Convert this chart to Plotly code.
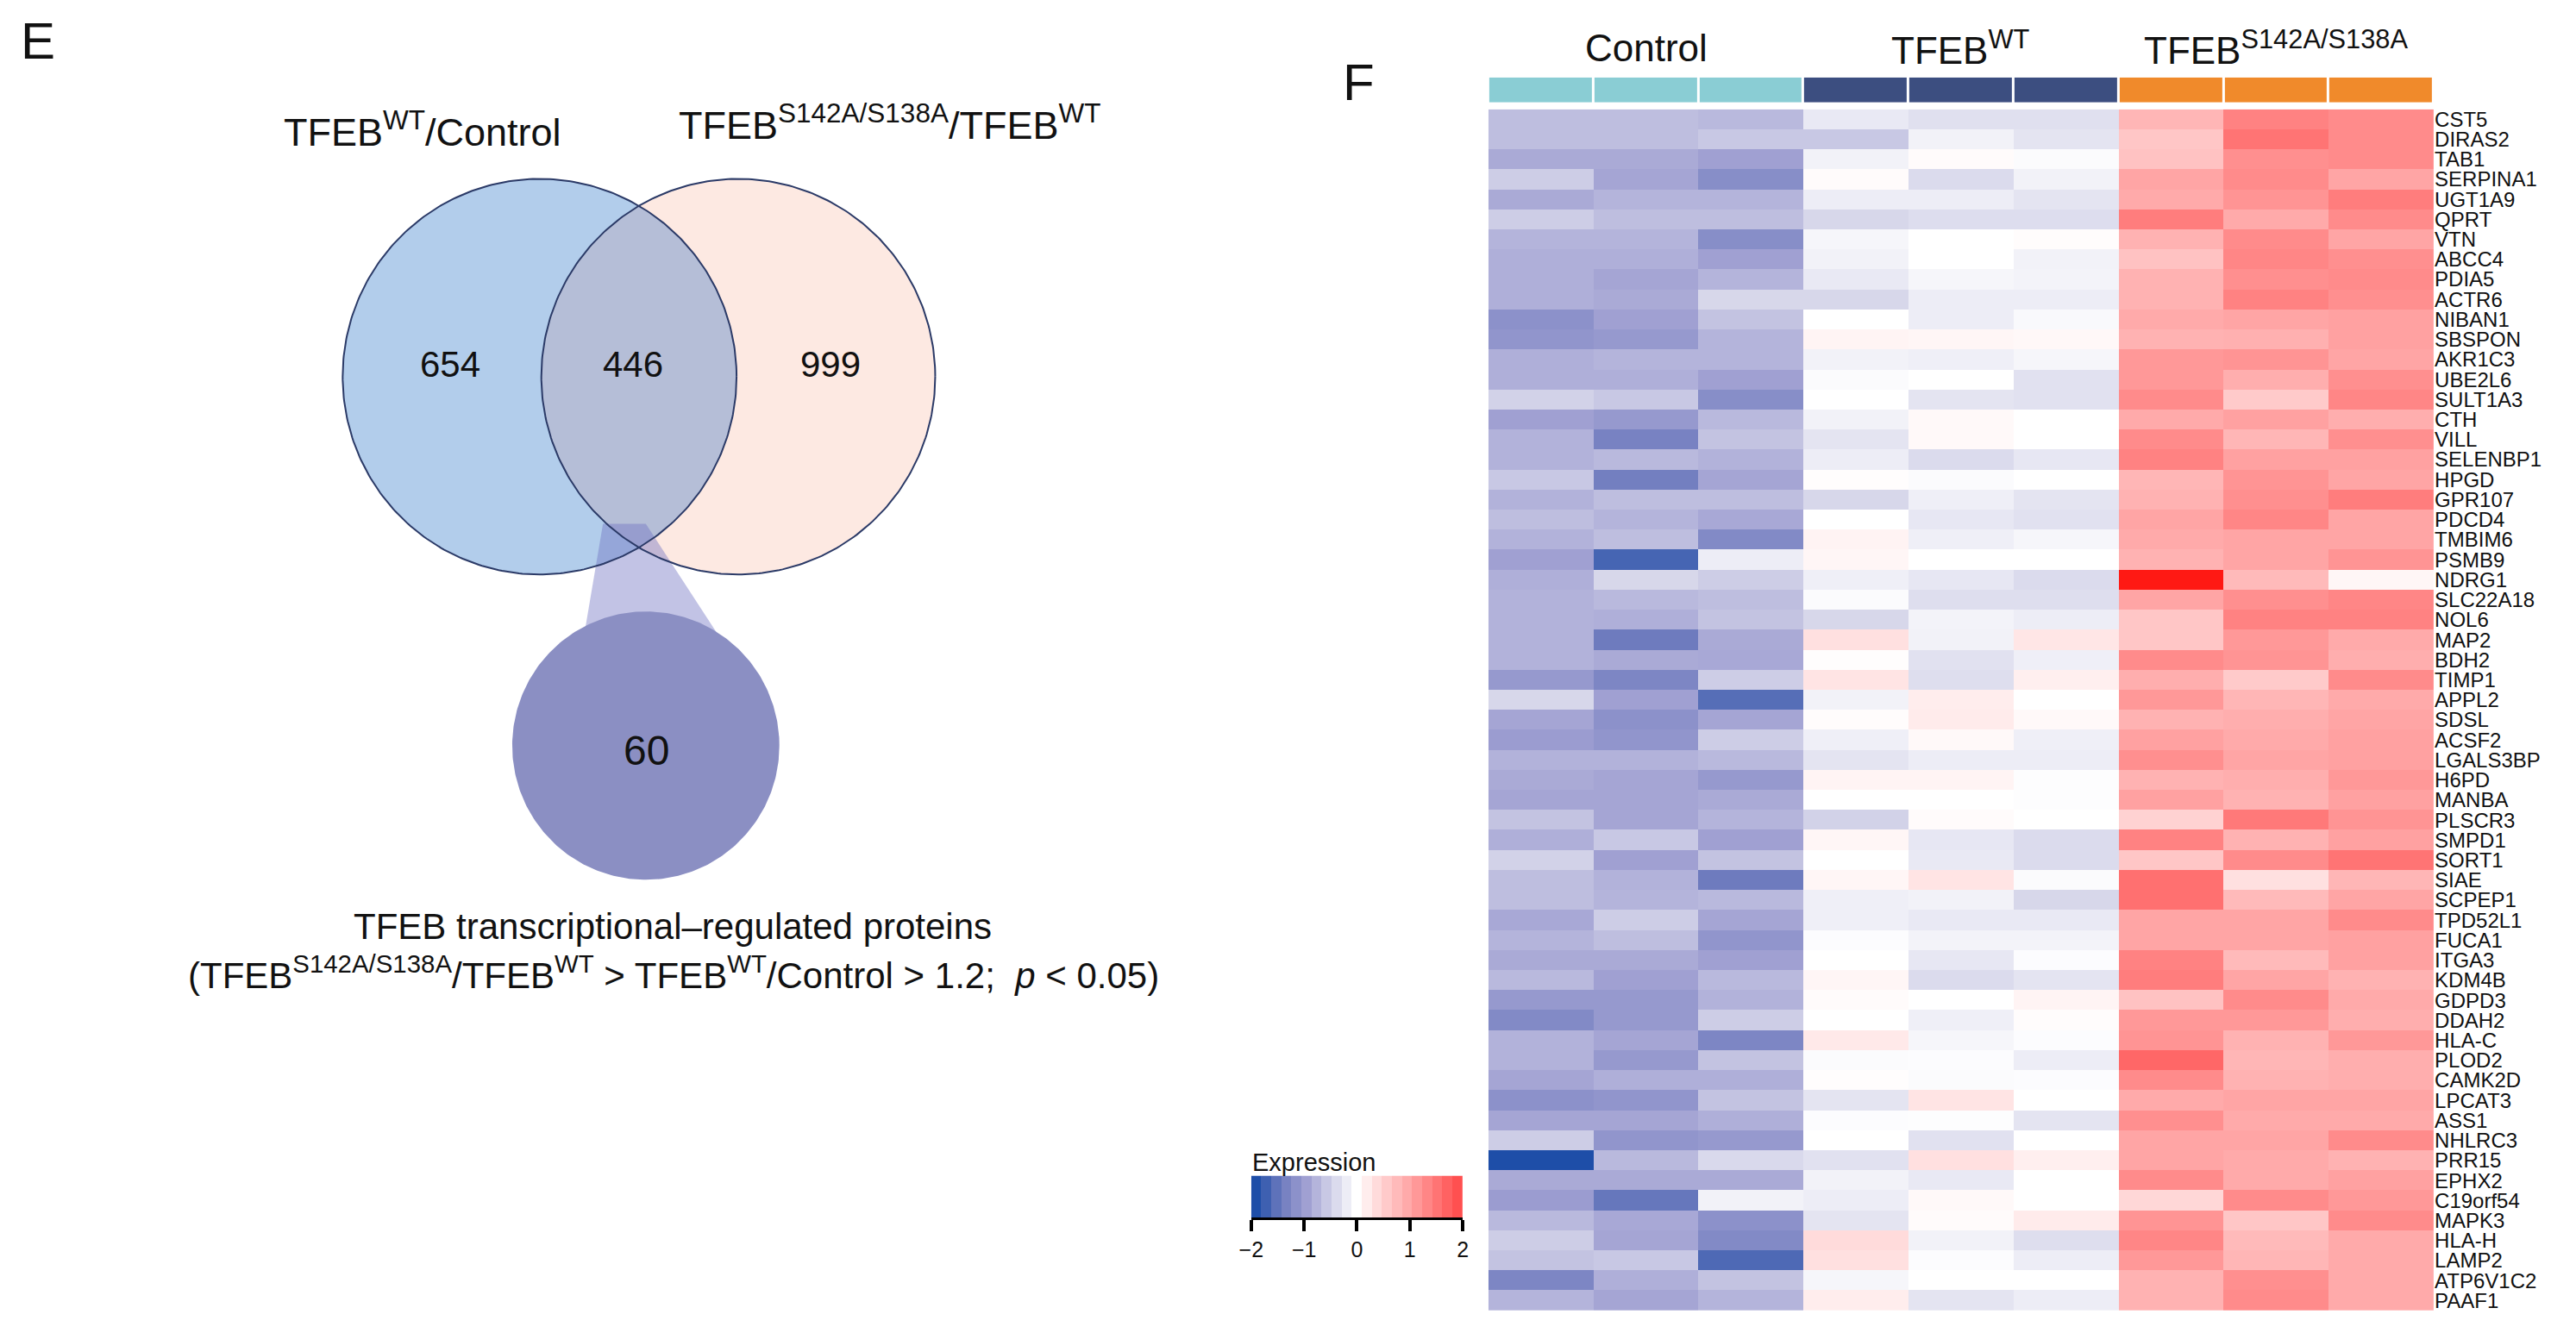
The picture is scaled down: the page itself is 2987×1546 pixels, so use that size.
import numpy as np
import plotly.graph_objects as go

W, H = 2987, 1546          # reference picture size
PAD = 8                    # default body margin of the html page
WF, HF = W - 2 * PAD, H - 2 * PAD
FONT = "Liberation Sans, Arial, Helvetica, sans-serif"

# ---------------- DATA ----------------
genes = ["CST5", "DIRAS2", "TAB1", "SERPINA1", "UGT1A9", "QPRT", "VTN", "ABCC4", "PDIA5", "ACTR6",
         "NIBAN1", "SBSPON", "AKR1C3", "UBE2L6", "SULT1A3", "CTH", "VILL", "SELENBP1", "HPGD", "GPR107",
         "PDCD4", "TMBIM6", "PSMB9", "NDRG1", "SLC22A18", "NOL6", "MAP2", "BDH2", "TIMP1", "APPL2",
         "SDSL", "ACSF2", "LGALS3BP", "H6PD", "MANBA", "PLSCR3", "SMPD1", "SORT1", "SIAE", "SCPEP1",
         "TPD52L1", "FUCA1", "ITGA3", "KDM4B", "GDPD3", "DDAH2", "HLA-C", "PLOD2", "CAMK2D", "LPCAT3",
         "ASS1", "NHLRC3", "PRR15", "EPHX2", "C19orf54", "MAPK3", "HLA-H", "LAMP2", "ATP6V1C2", "PAAF1"]

groups = ["Control", "TFEB<sup>WT</sup>", "TFEB<sup>S142A/S138A</sup>"]
sample_group = [0, 0, 0, 1, 1, 1, 2, 2, 2]

ctrl_1 = [-0.7, -0.7, -0.9, -0.55, -0.9, -0.55, -0.8, -0.85, -0.85, -0.85,
          -1.2, -1.15, -0.85, -0.85, -0.5, -1.0, -0.82, -0.82, -0.6, -0.82,
          -0.7, -0.82, -1.0, -0.85, -0.82, -0.82, -0.82, -0.82, -1.1, -0.45,
          -0.95, -1.05, -0.82, -0.9, -0.95, -0.65, -0.85, -0.5, -0.7, -0.7,
          -0.92, -0.8, -0.9, -0.75, -1.1, -1.3, -0.82, -0.82, -0.95, -1.2,
          -0.95, -0.55, -2.0, -0.9, -1.05, -0.75, -0.55, -0.65, -1.35, -0.8]
ctrl_2 = [-0.7, -0.7, -0.9, -0.95, -0.8, -0.7, -0.8, -0.85, -0.95, -0.9,
          -1.0, -1.1, -0.8, -0.85, -0.6, -1.1, -1.4, -0.75, -1.45, -0.7,
          -0.8, -0.7, -1.75, -0.45, -0.75, -0.85, -1.5, -0.9, -1.35, -1.0,
          -1.2, -1.15, -0.82, -0.95, -0.95, -0.95, -0.6, -1.0, -0.82, -0.8,
          -0.55, -0.7, -0.9, -1.0, -1.1, -1.1, -0.95, -1.1, -0.85, -1.15,
          -0.95, -1.15, -0.75, -0.9, -1.55, -0.92, -0.95, -0.6, -0.85, -0.95]
ctrl_3 = [-0.75, -0.6, -1.0, -1.25, -0.8, -0.7, -1.25, -1.0, -0.8, -0.45,
          -0.65, -0.8, -0.8, -1.0, -1.25, -0.75, -0.65, -0.82, -0.95, -0.7,
          -0.92, -1.3, -0.2, -0.55, -0.7, -0.65, -0.9, -0.92, -0.55, -1.65,
          -0.95, -0.55, -0.75, -1.1, -0.9, -0.8, -1.0, -0.65, -1.5, -0.75,
          -0.95, -1.15, -1.0, -0.75, -0.82, -0.55, -1.35, -0.65, -0.85, -0.65,
          -0.85, -1.1, -0.42, -0.9, -0.15, -1.2, -1.3, -1.7, -0.65, -0.8]
wt_1 = [-0.25, -0.6, -0.15, 0.05, -0.2, -0.45, -0.1, -0.15, -0.25, -0.45,
        0.0, 0.12, -0.15, -0.05, 0.0, -0.15, -0.3, -0.2, 0.02, -0.45,
        0.0, 0.13, 0.1, -0.18, -0.05, -0.45, 0.35, 0.02, 0.3, -0.15,
        0.03, -0.18, -0.3, 0.12, 0.0, -0.5, 0.1, 0.0, 0.1, -0.18,
        -0.18, -0.03, 0.0, 0.1, 0.05, 0.0, 0.25, -0.05, 0.02, -0.3,
        -0.03, 0.0, -0.33, -0.15, -0.2, -0.3, 0.4, 0.35, -0.1, 0.2]
wt_2 = [-0.35, -0.15, 0.05, -0.4, -0.2, -0.38, 0.0, 0.0, -0.1, -0.2,
        -0.2, 0.1, -0.18, 0.0, -0.3, 0.07, 0.07, -0.4, -0.05, -0.18,
        -0.27, -0.18, 0.0, -0.27, -0.37, -0.13, -0.15, -0.33, -0.37, 0.2,
        0.22, 0.07, -0.2, 0.12, 0.0, 0.04, -0.27, -0.25, 0.3, -0.15,
        -0.25, -0.13, -0.27, -0.4, 0.0, -0.18, -0.1, -0.03, -0.05, 0.3,
        -0.02, -0.33, 0.35, -0.25, 0.07, 0.05, -0.15, -0.03, 0.0, -0.3]
wt_3 = [-0.35, -0.3, -0.05, -0.15, -0.3, -0.38, 0.03, -0.15, -0.13, -0.2,
        -0.07, 0.08, -0.1, -0.33, -0.33, 0.0, 0.0, -0.27, 0.0, -0.3,
        -0.33, -0.1, 0.0, -0.4, -0.37, -0.2, 0.28, -0.18, 0.18, 0.0,
        0.07, -0.18, -0.2, -0.02, -0.02, 0.0, -0.4, -0.4, -0.05, -0.45,
        -0.25, -0.13, -0.03, -0.3, 0.12, 0.03, -0.03, -0.2, -0.03, 0.0,
        -0.3, 0.0, 0.18, 0.0, 0.0, 0.22, -0.37, -0.2, 0.0, -0.2]
mut_1 = [0.85, 0.65, 0.7, 1.05, 1.0, 1.5, 0.9, 0.7, 0.9, 0.9,
         1.0, 0.9, 1.2, 1.2, 1.35, 1.0, 1.35, 1.45, 0.85, 0.9,
         1.05, 1.0, 0.9, 2.6, 1.05, 0.65, 0.65, 1.35, 0.95, 1.2,
         0.9, 1.1, 1.3, 0.9, 1.1, 0.5, 1.45, 0.65, 1.65, 1.65,
         1.05, 1.05, 1.45, 1.5, 0.7, 1.2, 1.25, 1.75, 1.35, 1.0,
         1.3, 1.05, 1.05, 1.35, 0.45, 1.25, 1.4, 1.2, 0.9, 0.9]
mut_2 = [1.45, 1.6, 1.3, 1.35, 1.25, 1.0, 1.35, 1.4, 1.3, 1.45,
         1.05, 0.92, 1.25, 0.95, 0.6, 1.1, 0.85, 1.1, 1.25, 1.3,
         1.4, 1.05, 1.05, 0.8, 1.3, 1.45, 1.2, 1.25, 0.6, 0.85,
         0.95, 1.0, 1.05, 0.95, 0.9, 1.55, 0.9, 1.35, 0.35, 0.8,
         1.05, 1.05, 0.8, 1.05, 1.35, 1.2, 0.9, 0.85, 0.9, 1.05,
         1.0, 1.05, 1.0, 1.0, 1.35, 0.65, 0.8, 0.85, 1.3, 1.35]
mut_3 = [1.35, 1.35, 1.35, 1.05, 1.5, 1.35, 1.05, 1.3, 1.35, 1.3,
         1.1, 1.1, 1.05, 1.3, 1.4, 0.95, 1.3, 1.1, 1.05, 1.5,
         1.05, 1.05, 1.25, 0.1, 1.4, 1.45, 1.0, 0.95, 1.35, 1.0,
         1.05, 1.1, 1.1, 1.2, 1.1, 1.25, 1.1, 1.6, 0.85, 1.05,
         1.35, 1.1, 1.1, 0.9, 1.0, 0.95, 1.2, 0.95, 0.95, 1.05,
         1.0, 1.35, 0.9, 1.1, 1.2, 1.35, 1.0, 1.0, 1.0, 1.0]

legend_ticks = [-2, -1, 0, 1, 2]
legend_steps = [round(-2 + 0.2 * i, 2) for i in range(21)]

venn_set_labels = ["TFEB<sup>WT</sup>/Control", "TFEB<sup>S142A/S138A</sup>/TFEB<sup>WT</sup>"]
venn_counts = [654, 446, 999]
subset_count = 60
caption_1 = "TFEB transcriptional\u2013regulated proteins"
caption_2 = ("(TFEB<sup>S142A/S138A</sup>/TFEB<sup>WT</sup> &gt; TFEB<sup>WT</sup>/Control &gt; 1.2;\u00a0 "
             "<i>p</i> &lt; 0.05)")

# ---------------- STYLE ----------------
def px(x):
    return (x - PAD) / WF

def py(y):
    return 1 - (y - PAD) / HF

ZMIN, ZMAX = -2.0, 2.6
stops = [(-2.0, (30, 78, 168)), (-1.5, (110, 123, 190)), (-1.0, (160, 160, 210)),
         (-0.5, (210, 210, 232)), (0.0, (255, 255, 255)), (0.5, (255, 210, 210)),
         (1.0, (255, 170, 170)), (1.5, (255, 125, 125)), (2.0, (255, 80, 80)),
         (2.6, (255, 25, 20))]
colorscale = [[(v - ZMIN) / (ZMAX - ZMIN), "rgb(%d,%d,%d)" % c] for v, c in stops]

group_colors = ["#8acdd4", "#3c4e80", "#f08a2b"]

z = np.column_stack([ctrl_1, ctrl_2, ctrl_3, wt_1, wt_2, wt_3, mut_1, mut_2, mut_3])

fig = go.Figure()

# Heatmap
hm_x0, hm_x1, hm_y0, hm_y1 = 1724, 2828, 125, 1522
fig.add_trace(go.Heatmap(z=z, x=list(range(9)), y=list(range(len(genes))),
                         colorscale=colorscale, zmin=ZMIN, zmax=ZMAX, showscale=False,
                         xaxis="x", yaxis="y", hoverinfo="skip"))

# Annotation bar
fig.add_trace(go.Heatmap(z=[sample_group], x=list(range(9)), y=[0],
                         colorscale=[[0, group_colors[0]], [0.333, group_colors[0]],
                                     [0.334, group_colors[1]], [0.666, group_colors[1]],
                                     [0.667, group_colors[2]], [1, group_colors[2]]],
                         zmin=0, zmax=2, showscale=False, xgap=3,
                         xaxis="x2", yaxis="y2", hoverinfo="skip"))

# Legend (stepped)
n = len(legend_steps)
centers = [-2 + (i + 0.5) * 4 / n for i in range(n)]
fig.add_trace(go.Heatmap(z=[legend_steps], x=centers, y=[0], colorscale=colorscale,
                         zmin=ZMIN, zmax=ZMAX, showscale=False,
                         xaxis="x4", yaxis="y4", hoverinfo="skip"))

# ---------------- VENN ----------------
cL, cR, r = (616.0, 436.0), (848.0, 436.0), 230.0
cS, rS = (740.0, 865.0), 156.0
t = np.linspace(0, 2 * np.pi, 361)

def circ(c, rr):
    return c[0] + rr * np.cos(t), c[1] + rr * np.sin(t)

def add_fill(xs, ys, color):
    fig.add_trace(go.Scatter(x=xs, y=ys, mode="lines", fill="toself", fillcolor=color,
                             line=dict(width=0, color=color), xaxis="x3", yaxis="y3",
                             hoverinfo="skip"))

xl, yl = circ(cL, r)
xr, yr = circ(cR, r)
add_fill(xl, yl, "#b2cdeb")
add_fill(xr, yr, "#fde9e2")

half = (cR[0] - cL[0]) / 2
hh = np.sqrt(r ** 2 - half ** 2)
ang = np.arctan2(hh, half)
a1 = np.linspace(-ang, ang, 120)
a2 = np.linspace(np.pi - ang, np.pi + ang, 120)
lens_x = np.concatenate([cL[0] + r * np.cos(a1), cR[0] + r * np.cos(a2)])
lens_y = np.concatenate([cL[1] + r * np.sin(a1), cR[1] + r * np.sin(a2)])
add_fill(lens_x, lens_y, "#b5bed7")

# funnel
fx = [690, 740, 840, 664]
fy = [607, 607, 760, 760]
add_fill(fx, fy, "rgba(110,112,192,0.42)")

for xs, ys in [(xl, yl), (xr, yr)]:
    fig.add_trace(go.Scatter(x=xs, y=ys, mode="lines", line=dict(width=2, color="#2b3a67"),
                             xaxis="x3", yaxis="y3", hoverinfo="skip"))

xs_, ys_ = circ(cS, rS)
add_fill(xs_, ys_, "#8b8fc3")

# ---------------- LAYOUT ----------------
hidden = dict(visible=False, showgrid=False, zeroline=False)
fig.update_layout(
    width=WF, height=HF, margin=dict(l=0, r=0, t=0, b=0),
    paper_bgcolor="white", plot_bgcolor="white", showlegend=False,
    font=dict(family=FONT, color="#111111"),
    xaxis=dict(domain=[px(hm_x0), px(hm_x1)], range=[-0.5, 8.5], **hidden),
    yaxis=dict(domain=[py(hm_y1), py(hm_y0)], range=[len(genes) - 0.5, -0.5],
               side="right", tickmode="array", tickvals=list(range(len(genes))),
               ticktext=genes, ticks="", showgrid=False, zeroline=False, showline=False,
               tickfont=dict(size=24, family=FONT, color="#111111")),
    xaxis2=dict(domain=[px(hm_x0), px(hm_x1)], range=[-0.5, 8.5], anchor="y2", **hidden),
    yaxis2=dict(domain=[py(117), py(88)], range=[-0.5, 0.5], anchor="x2", **hidden),
    xaxis3=dict(domain=[0, px(1440)], range=[PAD, 1440], anchor="y3", **hidden),
    yaxis3=dict(domain=[0, 1], range=[H - PAD, PAD], anchor="x3", **hidden),
    xaxis4=dict(domain=[px(1447), px(1694)], range=[-2, 2], anchor="y4",
                tickmode="array", tickvals=legend_ticks, ticks="outside", ticklen=13,
                tickwidth=4, tickcolor="black", showline=True, linecolor="black",
                linewidth=3, showgrid=False, zeroline=False,
                tickfont=dict(size=25, family=FONT, color="#111111")),
    yaxis4=dict(domain=[py(1414), py(1365)], range=[-0.5, 0.5], anchor="x4", **hidden),
)

ann = []

def add_text(text, x, y, size, xanchor="center", yanchor="middle"):
    ann.append(dict(text=text, x=px(x), y=py(y), xref="paper", yref="paper",
                    xanchor=xanchor, yanchor=yanchor, showarrow=False,
                    font=dict(size=size, family=FONT, color="#111111")))

add_text("E", 8, 46, 60, xanchor="left")
add_text("F", 1552, 94, 60, xanchor="left")

add_text(venn_set_labels[0], 479, 148, 45)
add_text(venn_set_labels[1], 1025, 140, 45)
for val, xx in zip(venn_counts, [512, 725, 956]):
    add_text(str(val), xx, 422, 42)
add_text(str(subset_count), 741, 871, 48)
add_text(caption_1, 771, 1075, 42)
add_text(caption_2, 772, 1129, 42)

group_centers = [1908, 2276, 2644]
for g, xx in zip(groups, group_centers):
    add_text(g, xx, 54, 44)

add_text("Expression", 1446, 1350, 29, xanchor="left")

fig.update_layout(annotations=ann)
fig.write_html("out.html")
